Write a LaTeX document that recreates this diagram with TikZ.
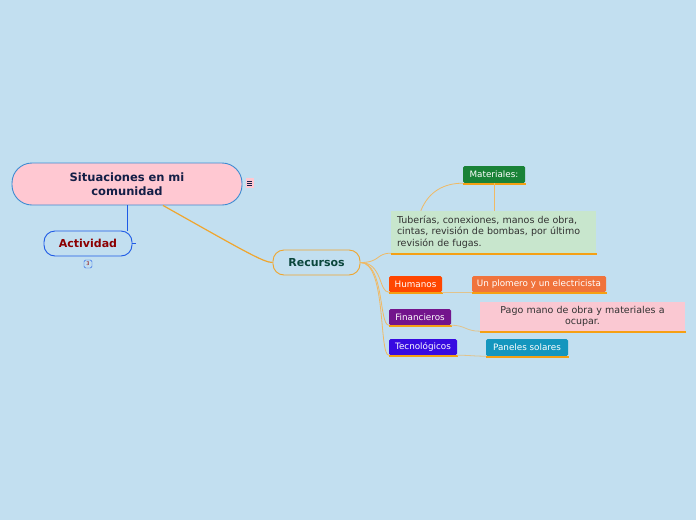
\documentclass[tikz,border=0pt]{standalone}
\usepackage{fontspec}
\setmainfont{DejaVu Sans}
\usepackage{tikz}
\hyphenpenalty=10000
\exhyphenpenalty=10000
\definecolor{bgblue}{RGB}{194,223,240}
\definecolor{rootfill}{RGB}{255,200,210}
\definecolor{rootline}{RGB}{60,140,210}
\definecolor{rootink}{RGB}{20,30,70}
\definecolor{actline}{RGB}{30,90,230}
\definecolor{actink}{RGB}{140,0,0}
\definecolor{recline}{RGB}{240,165,45}
\definecolor{recink}{RGB}{10,70,60}
\definecolor{ulorange}{RGB}{245,160,20}
\definecolor{branch}{RGB}{240,185,100}
\definecolor{twig}{RGB}{225,195,140}
\definecolor{notefill}{RGB}{200,230,205}
\definecolor{noteink}{RGB}{50,50,50}
\definecolor{matgreen}{RGB}{25,130,55}
\definecolor{humred}{RGB}{255,70,0}
\definecolor{plomorange}{RGB}{240,115,60}
\definecolor{finpurple}{RGB}{115,20,140}
\definecolor{pagopink}{RGB}{250,200,210}
\definecolor{tecblue}{RGB}{55,10,225}
\definecolor{panteal}{RGB}{20,150,190}
\tikzset{
  root/.style={
    rounded corners=20pt, draw=rootline, fill=rootfill, line width=0.9pt,
    minimum width=230pt, minimum height=42pt, text width=200pt, align=center,
    inner sep=0pt, text=rootink, font=\fontsize{11.5}{14.5}\selectfont\bfseries
  },
  pill/.style={
    rounded corners=11pt, line width=0.9pt, fill=bgblue,
    minimum height=25pt, inner sep=0pt, font=\fontsize{11}{13}\selectfont\bfseries
  },
  underline/.style={
    append after command={
      ([yshift=-0.7pt]\tikzlastnode.south west) edge[draw=ulorange, color=ulorange, line width=1.4pt]
      ([xshift=1pt,yshift=-0.7pt]\tikzlastnode.south east)
    }
  },
  topic/.style={
    rounded corners=1.5pt, text=white, inner sep=0pt, minimum height=16pt,
    font=\fontsize{8.8}{11}\selectfont, underline
  },
  note/.style={
    inner sep=0pt, text=noteink, font=\fontsize{9.5}{11.5}\selectfont, underline
  },
  branch line/.style={draw=branch, line width=0.8pt},
  twig line/.style={draw=twig, line width=0.8pt}
}

\begin{document}
\begin{tikzpicture}[x=1pt, y=-1pt]
\fill[bgblue] (0,0) rectangle (696,520);
\useasboundingbox (0,0) rectangle (696,520);

% ---------------------------
% raiz y actividad
% ---------------------------
\node[root] (main) at (127,184) {Situaciones en mi\\ comunidad};
\node[pill, draw=actline, text=actink, minimum width=88pt] (actividad) at (88,243.5) {Actividad};
\node[fill=rootfill, inner sep=0pt, minimum width=8pt, minimum height=10pt] (menu) at (249.5,183) {};
\foreach \dy in {-2,0,2}
  \draw[rootink, line width=0.5pt] ([xshift=-2.2pt,yshift=\dy pt]menu.center) -- ([xshift=2.2pt,yshift=\dy pt]menu.center);
\node[draw=actline, fill=bgblue, rounded corners=1.5pt, inner sep=0pt,
      minimum width=8pt, minimum height=8pt, font=\fontsize{5}{5}\selectfont,
      text=actink] (cuenta) at (88,264) {3};
\coordinate (tick) at ([xshift=4pt]actividad.east);

\draw[actline, line width=1pt] (main.south) -- (main.south |- actividad.north);
\draw[actline, line width=0.8pt] (actividad.east) -- (tick);

% ---------------------------
% recursos
% ---------------------------
\node[pill, draw=recline, text=recink, minimum width=87pt] (recursos) at (316.5,262.5) {Recursos};
\draw[recline, line width=1.2pt] ([xshift=36pt]main.south)
  .. controls +(80,45) and +(-9,0) .. (recursos.west);

\node[note, fill=notefill, minimum width=205pt, minimum height=42pt,
      text width=193pt, align=left] (tuberias) at (493.5,232)
  {Tuberías, conexiones, manos de obra, cintas, revisión de bombas, por último revisión de fugas.};
\node[topic, fill=matgreen, minimum width=62pt, minimum height=17pt] (materiales) at (494,174.5) {Materiales:};

\node[topic, fill=humred, minimum width=53pt] (humanos) at (415.5,284) {Humanos};
\node[topic, fill=plomorange, minimum width=134pt] (plomero) at (539,284) {Un plomero y un electricista};

\node[topic, fill=finpurple, minimum width=62pt] (financieros) at (420,317) {Financieros};
\node[note, fill=pagopink, minimum width=205pt, minimum height=29pt,
      text width=196pt, align=center] (pago) at (582.5,316.5)
  {Pago mano de obra y materiales a\\ ocupar.};

\node[topic, fill=tecblue, minimum width=68pt] (tecnologicos) at (423,347) {Tecnológicos};
\node[topic, fill=panteal, minimum width=82pt, minimum height=17pt] (paneles) at (527,347.5) {Paneles solares};

% conectores
\draw[branch line] (recursos.east) .. controls +(20,0) and +(-15,0) .. (tuberias.south west);
\draw[branch line] (recursos.east) .. controls +(22,0) and +(-10,0) .. (humanos.south west);
\draw[branch line] (recursos.east) .. controls +(24,0) and +(-10,0) .. (financieros.south west);
\draw[branch line] (recursos.east) .. controls +(26,0) and +(-10,0) .. (tecnologicos.south west);

\draw[branch line] ([xshift=30pt]tuberias.north west)
  .. controls +(8,-20) and +(-18,0) .. (materiales.south west);
\draw[branch line] (materiales.south) -- (materiales.south |- tuberias.north);

\draw[twig line] (humanos.south east) .. controls +(12,0) and +(-12,0) .. (plomero.south west);
\draw[twig line] (financieros.south east) .. controls +(14,0) and +(-14,0) .. (pago.south west);
\draw[twig line] (tecnologicos.south east) .. controls +(12,0) and +(-12,0) .. (paneles.south west);

\end{tikzpicture}
\end{document}
